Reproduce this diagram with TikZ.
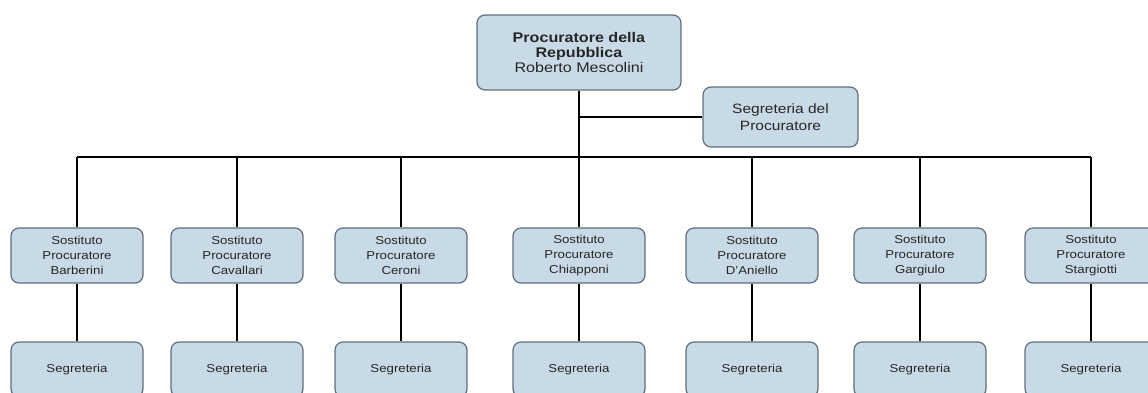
\documentclass[tikz,border=0pt]{standalone}
\usepackage{fontspec}
\setmainfont{Liberation Sans}[FakeStretch=1.15]
\usepackage[rgb]{xcolor}
\usepackage{tikz}

\definecolor{boxfill}{RGB}{200,218,230}
\definecolor{boxline}{RGB}{95,110,122}

\begin{document}
\begin{tikzpicture}[x=1pt, y=-1pt,
  box/.style={draw=boxline, fill=boxfill, rounded corners=8pt, line width=1.2pt,
    align=center, inner sep=0pt, text=black!85},
  capo/.style={box, minimum width=204pt, minimum height=75pt,
    font=\fontsize{14}{15}\selectfont},
  segcapo/.style={box, minimum width=155pt, minimum height=60pt,
    font=\fontsize{13.5}{17}\selectfont},
  sost/.style={box, minimum width=132pt, minimum height=55pt,
    font=\fontsize{11.5}{15}\selectfont},
  link/.style={black, line width=1.5pt}]

\clip (0,0) rectangle (1148,392);

% procuratore and his segreteria
\path
(579,52.5) node[capo] (proc) {\textbf{Procuratore della}\\ \textbf{Repubblica}\\ Roberto Mescolini}
(780.5,117) node[segcapo] (segproc) {Segreteria del\\ Procuratore};
\coordinate (bus) at (579,157);

\draw[link, line width=2.2pt] (proc.south) -- (bus);
\draw[link] (proc.south |- segproc.west) -- (segproc.west);

% sostituti, each one with a segreteria below
\foreach \x/\name [count=\i] in {77/Barberini, 237/Cavallari, 401/Ceroni,
  579/Chiapponi, 752/D'Aniello, 920/Gargiulo, 1091/Stargiotti}
{
  \node[sost] (sost\i) at (\x,255.5) {Sostituto\\ Procuratore\\ \name};
  \node[sost] (seg\i) at (\x,369.5) {Segreteria};
  \draw[link] (sost\i.south) -- (seg\i.north);
  \draw[link] (sost\i.north) -- (sost\i.north |- bus);
}

\draw[link] (sost1.north |- bus) -- (sost7.north |- bus);

\end{tikzpicture}
\end{document}
